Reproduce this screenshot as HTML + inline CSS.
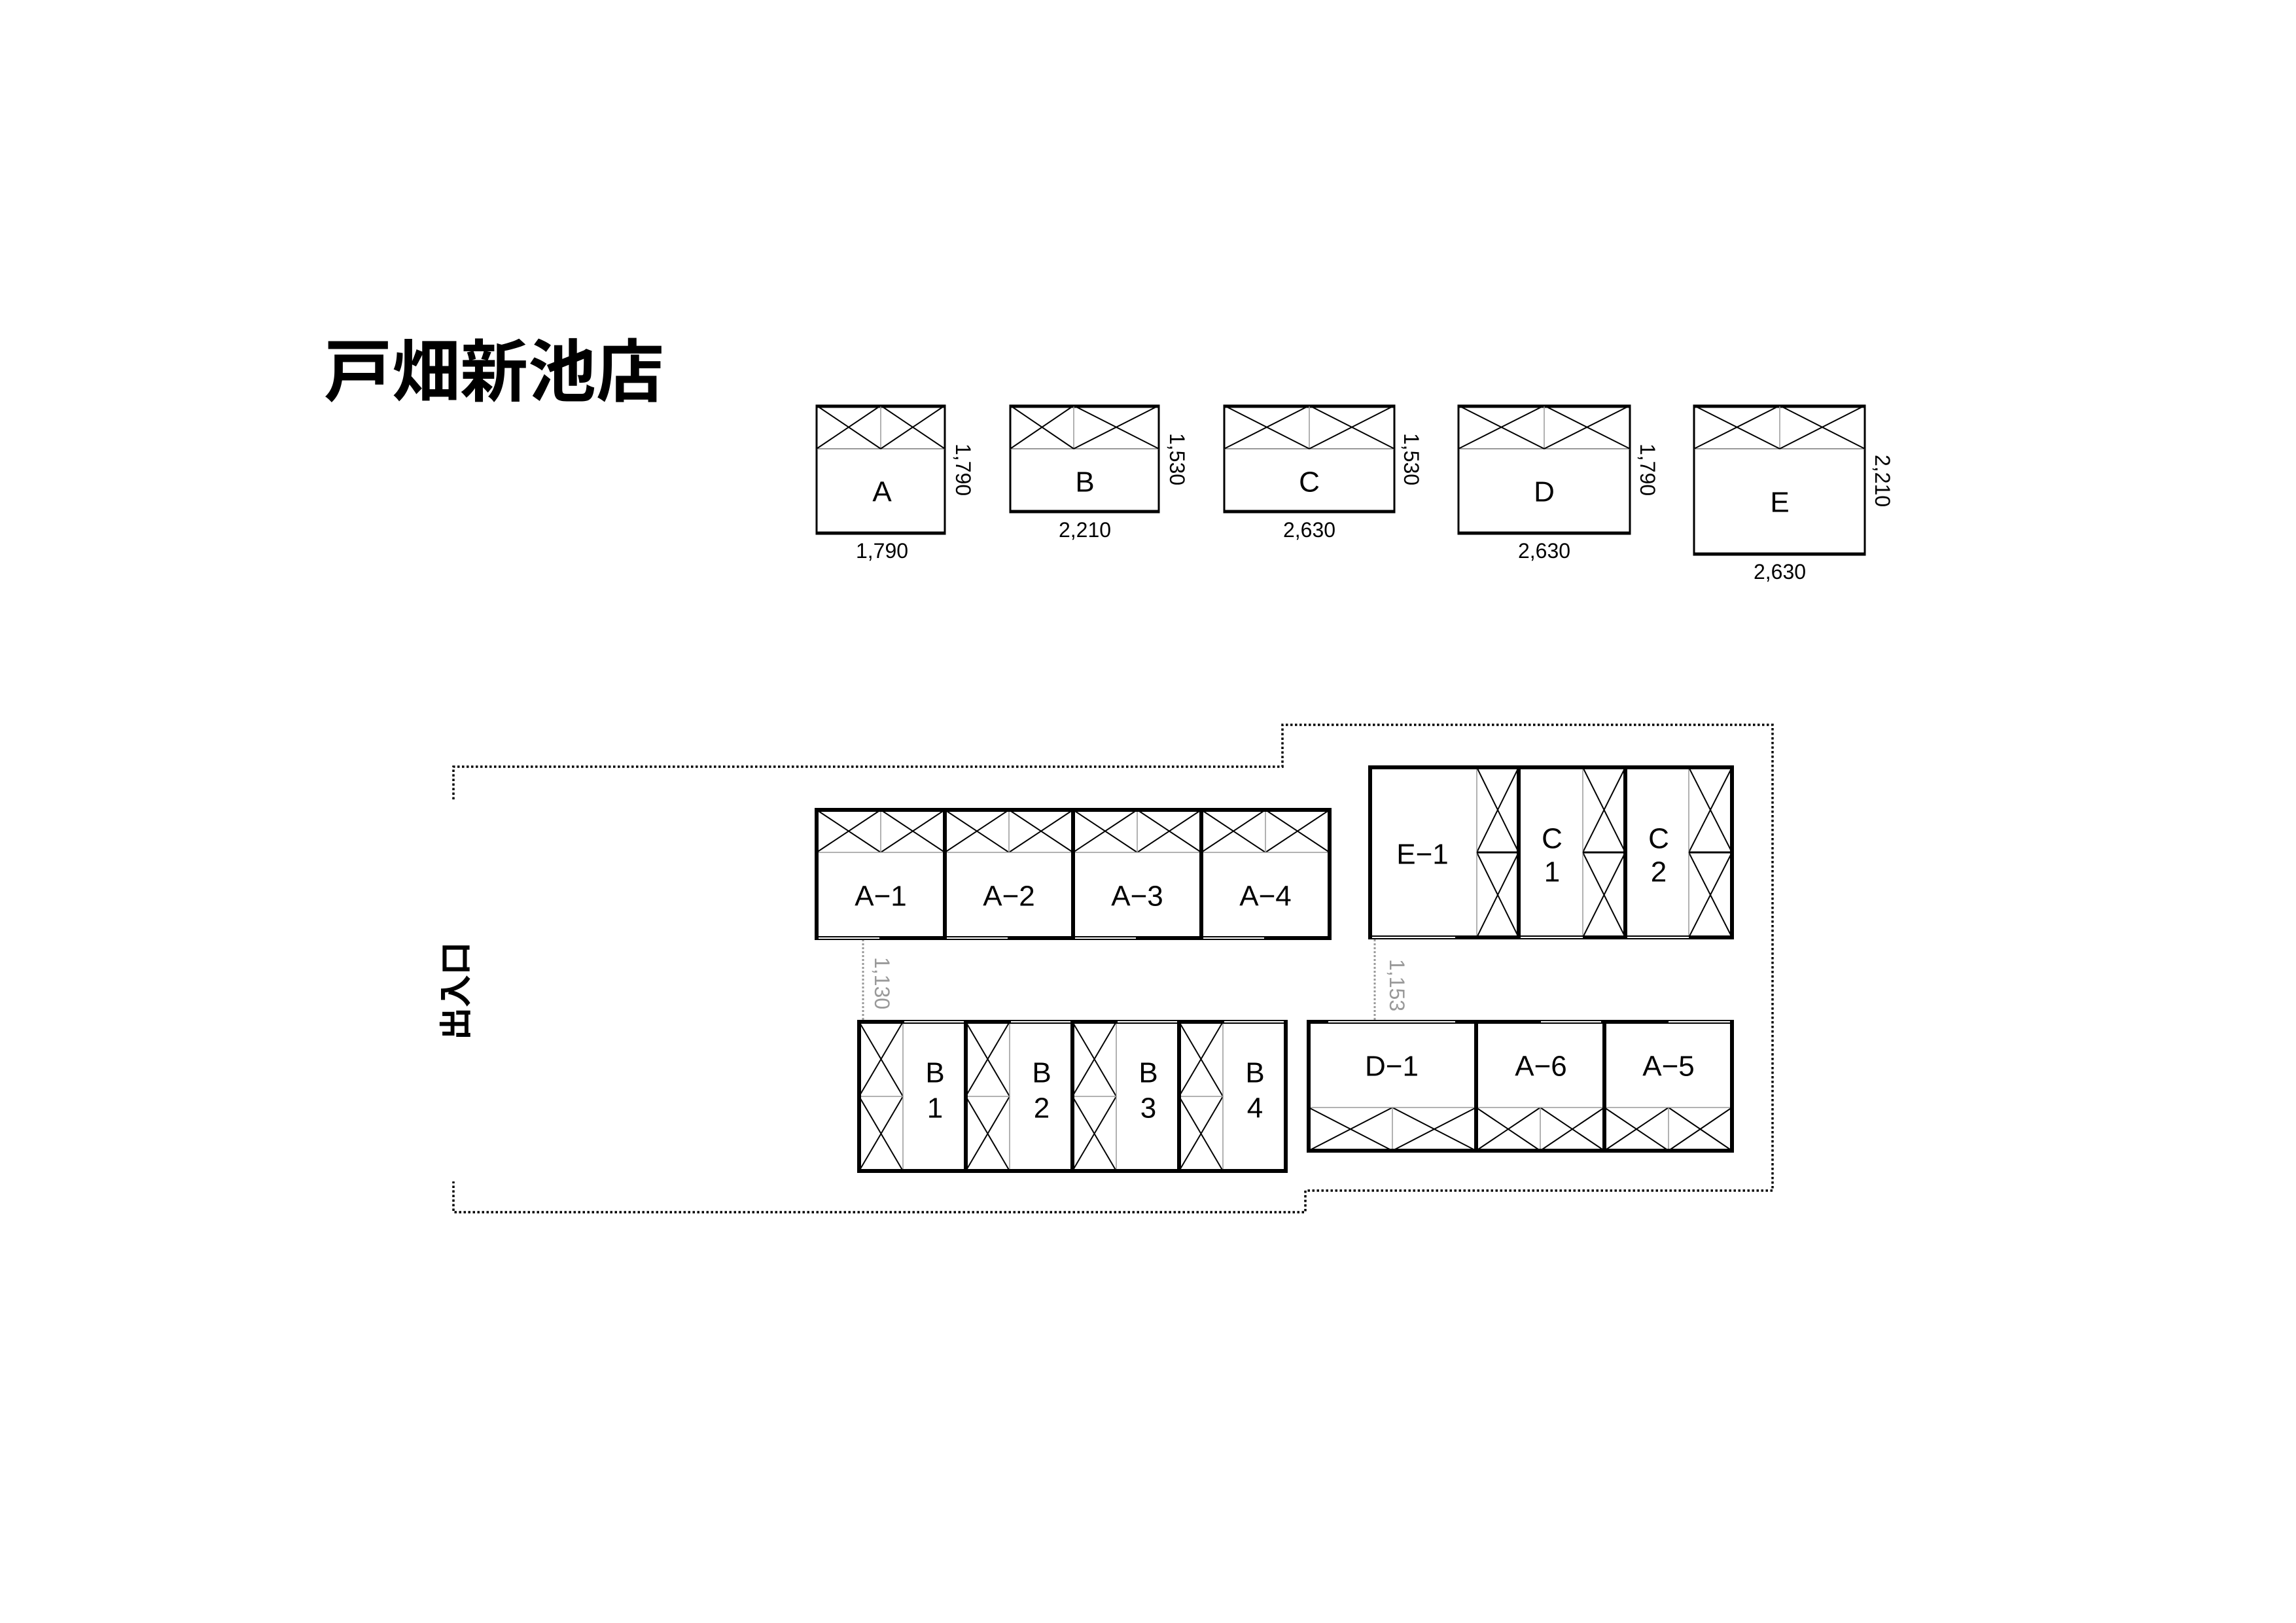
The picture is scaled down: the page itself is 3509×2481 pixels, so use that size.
<!DOCTYPE html>
<html><head><meta charset="utf-8"><style>
html,body{margin:0;padding:0;background:#fff;}
svg{display:block;}
text{font-family:"Liberation Sans","Noto Sans CJK JP",sans-serif;}
</style></head><body>
<svg width="3509" height="2481" viewBox="0 0 3509 2481" xmlns="http://www.w3.org/2000/svg">
<rect width="3509" height="2481" fill="#fff"/>
<text x="495" y="605" font-size="104" font-weight="bold" font-family="'Noto Sans CJK JP',sans-serif">戸畑新池店</text>

<!-- Legend boxes -->
<g fill="none" stroke="#000">
  <rect x="1248" y="620" width="196" height="196" stroke-width="3"/>
  <line x1="1248" y1="621" x2="1444" y2="621" stroke-width="5"/>
  <line x1="1248" y1="815" x2="1444" y2="815" stroke-width="5"/>
  <line x1="1248" y1="686" x2="1444" y2="686" stroke="#999" stroke-width="2"/>
  <line x1="1346" y1="620" x2="1346" y2="686" stroke="#999" stroke-width="1.5"/>
  <path d="M1248 620L1346 686M1346 620L1248 686M1346 620L1444 686M1444 620L1346 686" stroke-width="2"/>
  <rect x="1544" y="620" width="227" height="163" stroke-width="3"/>
  <line x1="1544" y1="621" x2="1771" y2="621" stroke-width="5"/>
  <line x1="1544" y1="782" x2="1771" y2="782" stroke-width="5"/>
  <line x1="1544" y1="686" x2="1771" y2="686" stroke="#999" stroke-width="2"/>
  <line x1="1641" y1="620" x2="1641" y2="686" stroke="#999" stroke-width="1.5"/>
  <path d="M1544 620L1641 686M1641 620L1544 686M1641 620L1771 686M1771 620L1641 686" stroke-width="2"/>
  <rect x="1871" y="620" width="260" height="163" stroke-width="3"/>
  <line x1="1871" y1="621" x2="2131" y2="621" stroke-width="5"/>
  <line x1="1871" y1="782" x2="2131" y2="782" stroke-width="5"/>
  <line x1="1871" y1="686" x2="2131" y2="686" stroke="#999" stroke-width="2"/>
  <line x1="2001" y1="620" x2="2001" y2="686" stroke="#999" stroke-width="1.5"/>
  <path d="M1871 620L2001 686M2001 620L1871 686M2001 620L2131 686M2131 620L2001 686" stroke-width="2"/>
  <rect x="2229" y="620" width="262" height="196" stroke-width="3"/>
  <line x1="2229" y1="621" x2="2491" y2="621" stroke-width="5"/>
  <line x1="2229" y1="815" x2="2491" y2="815" stroke-width="5"/>
  <line x1="2229" y1="686" x2="2491" y2="686" stroke="#999" stroke-width="2"/>
  <line x1="2360" y1="620" x2="2360" y2="686" stroke="#999" stroke-width="1.5"/>
  <path d="M2229 620L2360 686M2360 620L2229 686M2360 620L2491 686M2491 620L2360 686" stroke-width="2"/>
  <rect x="2589" y="620" width="261" height="228" stroke-width="3"/>
  <line x1="2589" y1="621" x2="2850" y2="621" stroke-width="5"/>
  <line x1="2589" y1="847" x2="2850" y2="847" stroke-width="5"/>
  <line x1="2589" y1="686" x2="2850" y2="686" stroke="#999" stroke-width="2"/>
  <line x1="2720" y1="620" x2="2720" y2="686" stroke="#999" stroke-width="1.5"/>
  <path d="M2589 620L2720 686M2720 620L2589 686M2720 620L2850 686M2850 620L2720 686" stroke-width="2"/>
</g>
<g font-size="44" text-anchor="middle" dominant-baseline="central">
  <text x="1348" y="752">A</text>
  <text x="1658" y="737">B</text>
  <text x="2001" y="737">C</text>
  <text x="2360" y="752">D</text>
  <text x="2720" y="768">E</text>
</g>
<g font-size="32" text-anchor="middle" dominant-baseline="central">
  <text x="1348" y="842">1,790</text>
  <text x="1658" y="810">2,210</text>
  <text x="2001" y="810">2,630</text>
  <text x="2360" y="842">2,630</text>
  <text x="2720" y="874">2,630</text>
  <text transform="translate(1472,718) rotate(90)">1,790</text>
  <text transform="translate(1799,702) rotate(90)">1,530</text>
  <text transform="translate(2157,702) rotate(90)">1,530</text>
  <text transform="translate(2518,718) rotate(90)">1,790</text>
  <text transform="translate(2877,735) rotate(90)">2,210</text>
</g>

<path d="M693 1222V1172H1960V1108H2709V1820H1995V1853H693V1806" fill="none" stroke="#000" stroke-width="3.5" stroke-dasharray="3.5 3.5"/>
<text transform="translate(697,1515) rotate(-90)" font-size="50" font-weight="bold" text-anchor="middle" dominant-baseline="central" font-family="'Noto Sans CJK JP',sans-serif">出入口</text>

<g stroke="#999" stroke-width="3" stroke-dasharray="3 3">
  <line x1="1319" y1="1436" x2="1319" y2="1560"/>
  <line x1="2101" y1="1436" x2="2101" y2="1560"/>
</g>
<g font-size="32" fill="#999" text-anchor="middle" dominant-baseline="central">
  <text transform="translate(1348,1503) rotate(90)">1,130</text>
  <text transform="translate(2135,1506) rotate(90)">1,153</text>
</g>

<g fill="none" stroke="#000">
  <path d="M1248 1238L1346 1303M1346 1238L1248 1303M1346 1238L1444 1303M1444 1238L1346 1303
           M1444 1238L1542 1303M1542 1238L1444 1303M1542 1238L1640 1303M1640 1238L1542 1303
           M1640 1238L1738 1303M1738 1238L1640 1303M1738 1238L1836 1303M1836 1238L1738 1303
           M1836 1238L1934 1303M1934 1238L1836 1303M1934 1238L2032 1303M2032 1238L1934 1303" stroke-width="2"/>
  <path d="M1248 1303H2032M1346 1238V1303M1542 1238V1303M1738 1238V1303M1934 1238V1303" stroke="#999" stroke-width="1.5"/>
  <rect x="1248" y="1238" width="784" height="196" stroke-width="6"/>
  <path d="M1444 1238V1434M1640 1238V1434M1836 1238V1434" stroke-width="6"/>
  <path d="M1251 1434H1344M1447 1434H1540M1643 1434H1736M1839 1434H1932" stroke="#fff" stroke-width="2"/>

  <path d="M1313 1562L1380 1676M1380 1562L1313 1676M1313 1676L1380 1790M1380 1676L1313 1790
           M1476 1562L1543 1676M1543 1562L1476 1676M1476 1676L1543 1790M1543 1676L1476 1790
           M1639 1562L1706 1676M1706 1562L1639 1676M1639 1676L1706 1790M1706 1676L1639 1790
           M1802 1562L1869 1676M1869 1562L1802 1676M1802 1676L1869 1790M1869 1676L1802 1790" stroke-width="2"/>
  <path d="M1380 1562V1790M1543 1562V1790M1706 1562V1790M1869 1562V1790M1313 1676H1380M1476 1676H1543M1639 1676H1706M1802 1676H1869" stroke="#999" stroke-width="1.5"/>
  <rect x="1313" y="1562" width="652" height="228" stroke-width="6"/>
  <path d="M1476 1562V1790M1639 1562V1790M1802 1562V1790" stroke-width="6"/>
  <path d="M1382 1562H1473M1545 1562H1636M1708 1562H1799M1871 1562H1962" stroke="#fff" stroke-width="2"/>

  <path d="M2257 1173L2321 1303M2321 1173L2257 1303M2257 1303L2321 1433M2321 1303L2257 1433
           M2419 1173L2484 1303M2484 1173L2419 1303M2419 1303L2484 1433M2484 1303L2419 1433
           M2581 1173L2647 1303M2647 1173L2581 1303M2581 1303L2647 1433M2647 1303L2581 1433" stroke-width="2"/>
  <path d="M2257 1173V1433M2419 1173V1433M2581 1173V1433" stroke="#999" stroke-width="1.5"/>
  <path d="M2257 1303H2321M2419 1303H2484M2581 1303H2647" stroke-width="3"/>
  <rect x="2094" y="1173" width="553" height="260" stroke-width="6"/>
  <path d="M2321 1173V1433M2484 1173V1433" stroke-width="6"/>
  <path d="M2097 1433H2224M2324 1433H2419M2487 1433H2581" stroke="#fff" stroke-width="2"/>

  <path d="M2000 1693L2128 1759M2128 1693L2000 1759M2128 1693L2256 1759M2256 1693L2128 1759
           M2256 1693L2354 1759M2354 1693L2256 1759M2354 1693L2452 1759M2452 1693L2354 1759
           M2452 1693L2550 1759M2550 1693L2452 1759M2550 1693L2647 1759M2647 1693L2550 1759" stroke-width="2"/>
  <path d="M2000 1693H2647M2128 1693V1759M2354 1693V1759M2550 1693V1759" stroke="#999" stroke-width="1.5"/>
  <rect x="2000" y="1562" width="647" height="197" stroke-width="6"/>
  <path d="M2256 1562V1759M2452 1562V1759" stroke-width="6"/>
  <path d="M2030 1562H2224M2355 1562H2447M2550 1562H2644" stroke="#fff" stroke-width="2"/>
</g>

<g font-size="44" text-anchor="middle" dominant-baseline="central">
  <text x="1346" y="1370">A−1</text>
  <text x="1542" y="1370">A−2</text>
  <text x="1738" y="1370">A−3</text>
  <text x="1934" y="1370">A−4</text>
  <text x="1429" y="1640">B</text><text x="1429" y="1694">1</text>
  <text x="1592" y="1640">B</text><text x="1592" y="1694">2</text>
  <text x="1755" y="1640">B</text><text x="1755" y="1694">3</text>
  <text x="1918" y="1640">B</text><text x="1918" y="1694">4</text>
  <text x="2174" y="1306">E−1</text>
  <text x="2372" y="1282">C</text><text x="2372" y="1333">1</text>
  <text x="2535" y="1282">C</text><text x="2535" y="1333">2</text>
  <text x="2127" y="1630">D−1</text>
  <text x="2355" y="1630">A−6</text>
  <text x="2550" y="1630">A−5</text>
</g>
</svg>
</body></html>
